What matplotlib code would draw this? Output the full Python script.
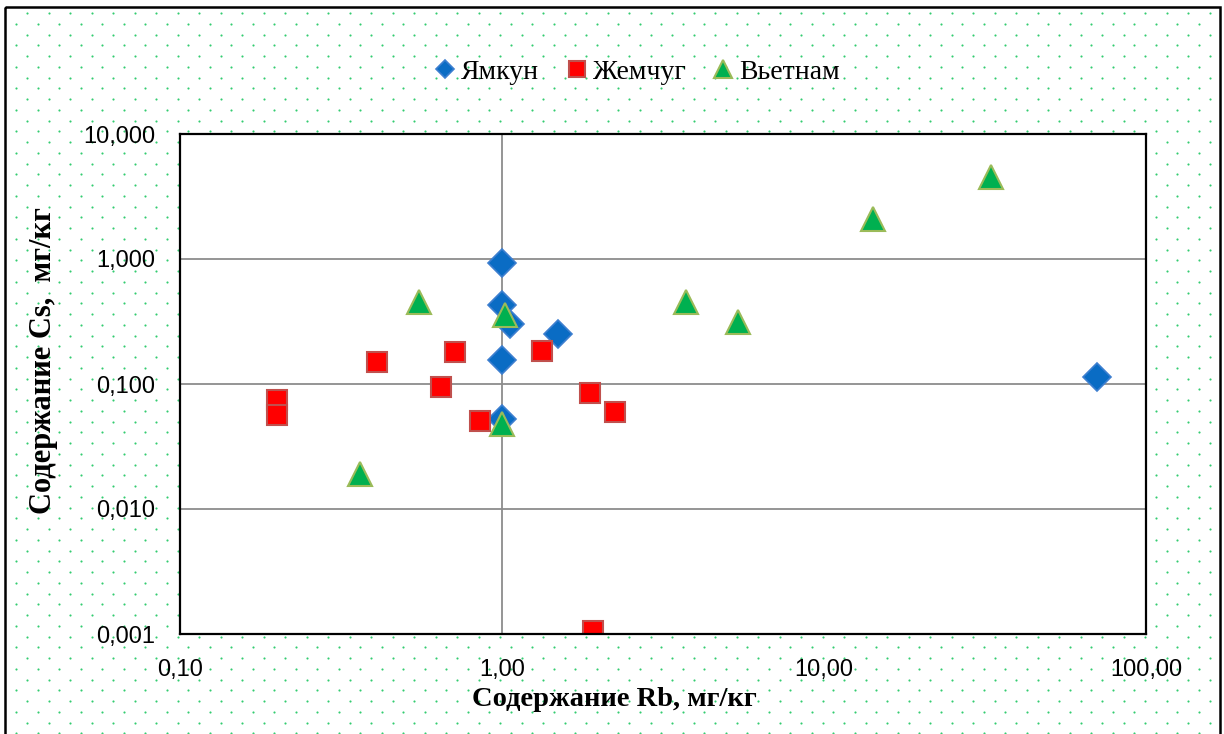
import matplotlib.pyplot as plt
import numpy as np
from matplotlib.patches import Rectangle
from matplotlib.ticker import FuncFormatter, FixedLocator, NullLocator

# Data (Rb, Cs in mg/kg)
yamkun_rb = [1.0, 1.0, 1.06, 1.49, 1.0, 1.0, 70.3]
yamkun_cs = [0.93, 0.43, 0.30, 0.25, 0.157, 0.052, 0.113]

zhemchug_rb = [0.20, 0.20, 0.41, 0.716, 0.648, 0.856, 1.33, 1.88, 2.25, 1.92]
zhemchug_cs = [0.075, 0.056, 0.151, 0.179, 0.095, 0.051, 0.185, 0.0855, 0.060, 0.00106]

vietnam_rb = [0.554, 1.02, 1.0, 0.363, 3.74, 5.39, 14.2, 33.0]
vietnam_cs = [0.456, 0.359, 0.0475, 0.0189, 0.45, 0.315, 2.09, 4.54]

labels = ['Ямкун', 'Жемчуг', 'Вьетнам']
x_ticks = [0.1, 1, 10, 100]
y_ticks = [0.001, 0.01, 0.1, 1, 10]

W, H = 1224, 734
fig = plt.figure(figsize=(W / 100, H / 100), dpi=100)

# background with green dot pattern and frame
bg = fig.add_axes([0, 0, 1, 1])
bg.set_xlim(0, W)
bg.set_ylim(H, 0)
bg.axis('off')
gx, gy = [], []
for j, yy in enumerate(np.arange(13, H, 10.75)):
    off = 27 if j % 2 == 0 else 16.3
    for xx in np.arange(off, W - 8, 21.5):
        gx.append(xx)
        gy.append(yy)
bg.scatter(gx, gy, s=2.4, color='#33cc70', linewidths=0)
bg.add_patch(Rectangle((5, 7), 1215, 740, fill=False, edgecolor='black', linewidth=1.8))

# main plot
ax = fig.add_axes([180 / W, 1 - 634 / H, 966 / W, 500 / H])
ax.set_facecolor('white')
ax.set_xscale('log')
ax.set_yscale('log')
ax.set_xlim(0.1, 100)
ax.set_ylim(0.001, 10)

for yv in [0.01, 0.1, 1]:
    ax.axhline(yv, color='#8c8c8c', linewidth=1.3, zorder=1)
ax.axvline(1, color='#8c8c8c', linewidth=1.3, zorder=1)

ax.plot(yamkun_rb, yamkun_cs, linestyle='none', marker='D', markersize=14,
        markerfacecolor='#0a6cc4', markeredgecolor='#3d7fcf', markeredgewidth=1.2,
        label=labels[0], zorder=3)
ax.plot(zhemchug_rb, zhemchug_cs, linestyle='none', marker='s', markersize=14,
        markerfacecolor='#ff0000', markeredgecolor='#c0504d', markeredgewidth=1.5,
        label=labels[1], zorder=3)
ax.plot(vietnam_rb, vietnam_cs, linestyle='none', marker='^', markersize=17,
        markerfacecolor='#00b050', markeredgecolor='#9bbb59', markeredgewidth=1.5,
        label=labels[2], zorder=4, clip_on=False)

ax.xaxis.set_major_locator(FixedLocator(x_ticks))
ax.yaxis.set_major_locator(FixedLocator(y_ticks))
ax.xaxis.set_minor_locator(NullLocator())
ax.yaxis.set_minor_locator(NullLocator())
ax.xaxis.set_major_formatter(FuncFormatter(lambda v, p: ('%.2f' % v).replace('.', ',')))
ax.yaxis.set_major_formatter(FuncFormatter(lambda v, p: ('%.3f' % v).replace('.', ',')))
ax.tick_params(axis='both', length=0, labelsize=17)
ax.tick_params(axis='x', pad=18)
ax.tick_params(axis='y', pad=18)
for t in ax.get_xticklabels() + ax.get_yticklabels():
    t.set_fontfamily('Liberation Sans')
for sp in ax.spines.values():
    sp.set_linewidth(1.6)
    sp.set_color('black')
    sp.set_zorder(5)

ax.set_xlabel('Содержание Rb, мг/кг', fontsize=20.5, fontweight='bold',
              fontfamily='Liberation Serif')
ax.set_ylabel('Содержание Cs,  мг/кг', fontsize=22, fontweight='bold',
              fontfamily='Liberation Serif')
ax.xaxis.set_label_coords(0.450, -0.106)
ax.yaxis.set_label_coords(-0.126, 0.546)

leg = ax.legend(loc='center', bbox_to_anchor=(637 / W, 1 - 72 / H), bbox_transform=fig.transFigure,
                ncol=3, frameon=False, prop={'family': 'Liberation Serif', 'size': 20},
                handletextpad=0.18, columnspacing=0.95, handlelength=0.8)
for h, ms in zip(leg.legend_handles, [9, 11.5, 13]):
    h.set_markersize(ms)

fig.savefig('out.png', dpi=100)
